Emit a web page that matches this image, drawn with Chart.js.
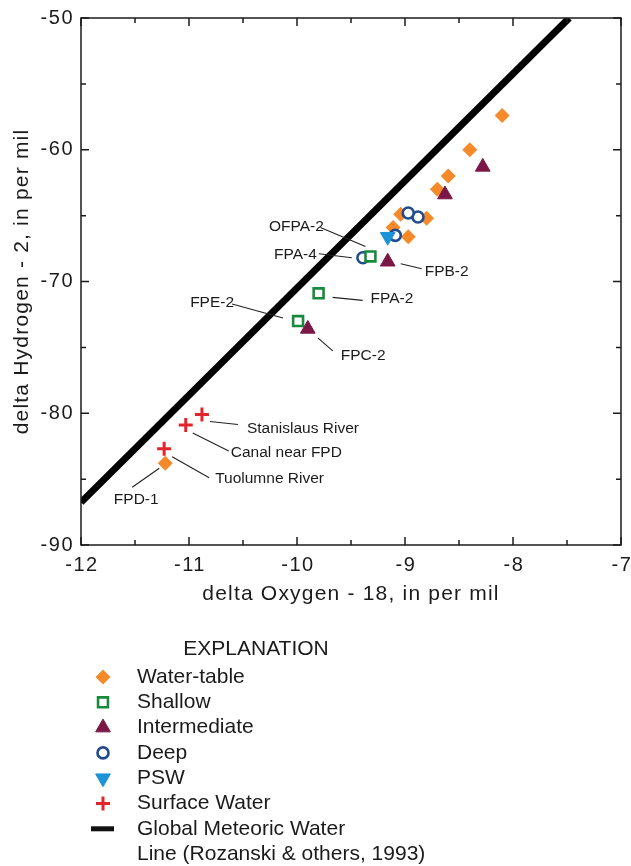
<!DOCTYPE html>
<html>
<head>
<meta charset="utf-8">
<script src="https://cdn.jsdelivr.net/npm/chart.js@4.4.0/dist/chart.umd.min.js"></script>
<style>
  html, body { margin: 0; padding: 0; background: #fff; }
  #wrap { width: 631px; height: 866px; }
</style>
</head>
<body>
<div id="wrap"><canvas id="isotopes" width="631" height="866"></canvas></div>
<script>
// delta oxygen-18 (x) and delta hydrogen-2 (y), in per mil
const waterTableO = [-8.10, -8.40, -8.60, -8.70, -9.04, -8.80, -9.11, -8.97, -11.22];
const waterTableH = [-57.4, -60.0, -62.0, -63.0, -64.9, -65.2, -65.9, -66.6, -83.8];
const shallowO = [-9.32, -9.80, -9.99];
const shallowH = [-68.1, -70.9, -73.0];
const intermediateO = [-8.28, -8.63, -9.16, -9.90];
const intermediateH = [-61.3, -63.4, -68.5, -73.6];
const deepO = [-8.88, -8.97, -9.09, -9.39];
const deepH = [-65.1, -64.8, -66.5, -68.2];
const pswO = [-9.16];
const pswH = [-66.6];
const surfaceO = [-10.88, -11.03, -11.23];
const surfaceH = [-80.1, -80.9, -82.7];
// global meteoric water line end points
const meteoricO = [-12, -7.48];
const meteoricH = [-86.76, -50];

const xTicks = [-12, -11, -10, -9, -8, -7];
const yTicks = [-90, -80, -70, -60, -50];

const FONT = "'Liberation Sans', Arial, sans-serif";
const INK = '#1b1b1b';

const pts = (xs, ys) => xs.map((v, i) => ({ x: v, y: ys[i] }));

const series = {
  waterTable: { label: 'Water-table', data: pts(waterTableO, waterTableH), pointStyle: 'rectRot', pointRadius: 7.5, pointBorderWidth: 0, pointBackgroundColor: '#F68A2B', pointBorderColor: '#F68A2B', order: 6 },
  deep: { label: 'Deep', data: pts(deepO, deepH), pointStyle: 'circle', pointRadius: 5.5, pointBorderWidth: 2.6, pointBackgroundColor: '#fff', pointBorderColor: '#1E4C8F', order: 5 },
  shallow: { label: 'Shallow', data: pts(shallowO, shallowH), pointStyle: 'rect', pointRadius: 7, pointBorderWidth: 2.6, pointBackgroundColor: '#fff', pointBorderColor: '#188A3E', order: 4 },
  psw: { label: 'PSW', data: pts(pswO, pswH), pointStyle: 'triangle', pointRotation: 180, pointRadius: 8.5, pointBorderWidth: 1, pointBackgroundColor: '#1B93D6', pointBorderColor: '#1B93D6', order: 3 },
  intermediate: { label: 'Intermediate', data: pts(intermediateO, intermediateH), pointStyle: 'triangle', pointRadius: 8.5, pointBorderWidth: 1, pointBackgroundColor: '#7B1746', pointBorderColor: '#7B1746', order: 2 },
  surface: { label: 'Surface Water', data: pts(surfaceO, surfaceH), pointStyle: 'cross', pointRadius: 7, pointBorderWidth: 3, pointBackgroundColor: '#E2252D', pointBorderColor: '#E2252D', order: 1 }
};

const meteoric = {
  label: 'Global Meteoric Water Line',
  data: pts(meteoricO, meteoricH),
  showLine: true,
  borderColor: '#000',
  borderWidth: 7,
  borderCapStyle: 'butt',
  pointRadius: 0,
  order: 10
};

// sample callouts: text offset and leader line, in pixels from the point
const callouts = [
  { text: 'OFPA-2', set: 'shallow', i: 0, dx: -74, dy: -30, align: 'center', line: [-50, -29, -5, -10] },
  { text: 'FPA-4', set: 'deep', i: 3, dx: -46, dy: -3, align: 'right', line: [-44, -4, -11, 0] },
  { text: 'FPB-2', set: 'intermediate', i: 2, dx: 37, dy: 10, align: 'left', line: [13, 2, 34, 7] },
  { text: 'FPA-2', set: 'shallow', i: 1, dx: 52, dy: 5, align: 'left', line: [14, 4, 44, 7] },
  { text: 'FPE-2', set: 'shallow', i: 2, dx: -64, dy: -18, align: 'right', line: [-66, -17, -15, -3] },
  { text: 'FPC-2', set: 'intermediate', i: 3, dx: 33, dy: 27, align: 'left', line: [10, 9, 25, 22] },
  { text: 'Stanislaus River', set: 'surface', i: 0, dx: 45, dy: 14, align: 'left', line: [8, 7, 36, 10] },
  { text: 'Canal near FPD', set: 'surface', i: 1, dx: 45, dy: 28, align: 'left', line: [7, 8, 43, 26] },
  { text: 'Tuolumne River', set: 'surface', i: 2, dx: 51, dy: 30, align: 'left', line: [8, 8, 45, 29] },
  { text: 'FPD-1', set: 'waterTable', i: 8, dx: -29, dy: 36, align: 'center', line: [-33, 24, -6, 5] }
];

const legendRows = ['waterTable', 'shallow', 'intermediate', 'deep', 'psw', 'surface'];

function text(ctx, str, x, y, size, align, spacing) {
  ctx.save();
  ctx.font = size + 'px ' + FONT;
  ctx.fillStyle = INK;
  ctx.textAlign = align;
  ctx.textBaseline = 'middle';
  if (spacing) ctx.letterSpacing = spacing + 'px';
  ctx.fillText(str, x, y);
  ctx.restore();
}

const framePlugin = {
  id: 'frame',
  afterDraw(chart) {
    const { ctx, chartArea: a, scales: { x, y } } = chart;
    ctx.save();
    ctx.strokeStyle = INK;
    ctx.lineWidth = 1.5;
    ctx.strokeRect(a.left, a.top, a.right - a.left, a.bottom - a.top);

    // inward ticks on all four sides, minor ones halfway
    ctx.beginPath();
    const xMarks = [];
    xTicks.forEach((v, i) => {
      xMarks.push([v, 8]);
      if (i < xTicks.length - 1) xMarks.push([(v + xTicks[i + 1]) / 2, 5]);
    });
    xMarks.forEach(([v, len]) => {
      const px = x.getPixelForValue(v);
      ctx.moveTo(px, a.bottom); ctx.lineTo(px, a.bottom - len);
      ctx.moveTo(px, a.top); ctx.lineTo(px, a.top + len);
    });
    const yMarks = [];
    yTicks.forEach((v, i) => {
      yMarks.push([v, 8]);
      if (i < yTicks.length - 1) yMarks.push([(v + yTicks[i + 1]) / 2, 5]);
    });
    yMarks.forEach(([v, len]) => {
      const py = y.getPixelForValue(v);
      ctx.moveTo(a.left, py); ctx.lineTo(a.left + len, py);
      ctx.moveTo(a.right, py); ctx.lineTo(a.right - len, py);
    });
    ctx.stroke();
    ctx.restore();

    xTicks.forEach(v => text(ctx, String(v), x.getPixelForValue(v) + 1, a.bottom + 20, 20, 'center', 1.5));
    yTicks.forEach(v => text(ctx, String(v), a.left - 7, y.getPixelForValue(v), 20, 'right', 1.5));

    text(ctx, 'delta Oxygen - 18, in per mil', (a.left + a.right) / 2, 594, 21, 'center', 1.2);
    ctx.save();
    ctx.translate(22, (a.top + a.bottom) / 2);
    ctx.rotate(-Math.PI / 2);
    text(ctx, 'delta Hydrogen - 2, in per mil', 0, 0, 21, 'center', 1.2);
    ctx.restore();

    // sample callouts
    ctx.save();
    ctx.strokeStyle = '#222';
    ctx.lineWidth = 1.1;
    callouts.forEach(c => {
      const p = series[c.set].data[c.i];
      const px = x.getPixelForValue(p.x), py = y.getPixelForValue(p.y);
      ctx.beginPath();
      ctx.moveTo(px + c.line[0], py + c.line[1]);
      ctx.lineTo(px + c.line[2], py + c.line[3]);
      ctx.stroke();
      text(ctx, c.text, px + c.dx, py + c.dy, 15.5, c.align);
    });
    ctx.restore();
  }
};

const explanationPlugin = {
  id: 'explanation',
  afterDraw(chart) {
    const ctx = chart.ctx;
    const symX = 103, textX = 137, top = 677, step = 25.3;
    text(ctx, 'EXPLANATION', 256, 649, 21, 'center');
    legendRows.forEach((key, r) => {
      const s = series[key];
      const yy = top + r * step;
      ctx.save();
      ctx.fillStyle = s.pointBackgroundColor;
      ctx.strokeStyle = s.pointBorderColor;
      ctx.lineWidth = s.pointBorderWidth;
      Chart.helpers.drawPoint(ctx, {
        pointStyle: s.pointStyle,
        radius: s.pointRadius,
        rotation: s.pointRotation || 0,
        borderWidth: s.pointBorderWidth
      }, symX, yy);
      ctx.restore();
      text(ctx, s.label, textX, yy, 21, 'left');
    });
    const lineY = top + 6 * step;
    ctx.save();
    ctx.fillStyle = '#111';
    ctx.fillRect(symX - 12, lineY - 2.5, 23, 5);
    ctx.restore();
    text(ctx, 'Global Meteoric Water', textX, lineY, 21, 'left');
    text(ctx, 'Line (Rozanski & others, 1993)', textX, lineY + step, 21, 'left');
  }
};

new Chart(document.getElementById('isotopes'), {
  type: 'scatter',
  data: {
    datasets: [
      series.surface, series.intermediate, series.psw,
      series.shallow, series.deep, series.waterTable, meteoric
    ]
  },
  options: {
    responsive: false,
    animation: false,
    devicePixelRatio: 1,
    layout: { padding: { top: 18, right: 8, bottom: 261, left: 0 } },
    plugins: { legend: { display: false }, tooltip: { enabled: false } },
    scales: {
      x: {
        type: 'linear', min: -12, max: -7,
        grid: { display: false }, border: { display: false }, ticks: { display: false },
        afterFit(s) { s.height = 60; }
      },
      y: {
        type: 'linear', min: -90, max: -50,
        grid: { display: false }, border: { display: false }, ticks: { display: false },
        afterFit(s) { s.width = 81; }
      }
    }
  },
  plugins: [framePlugin, explanationPlugin]
});
</script>
</body>
</html>
